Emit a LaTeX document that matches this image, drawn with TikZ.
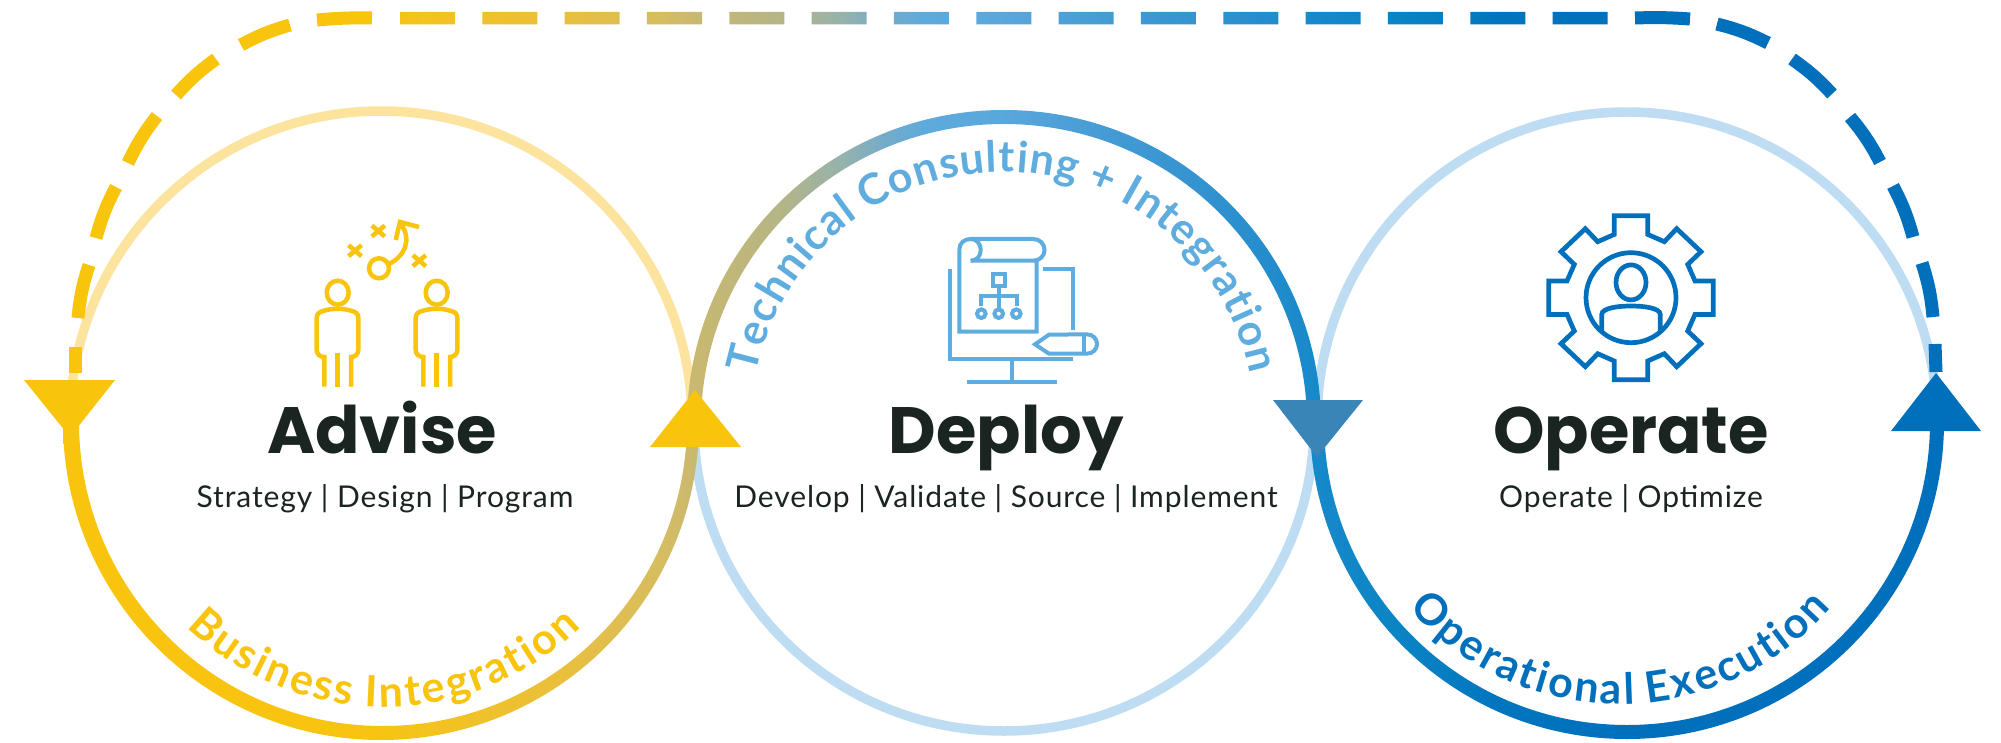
\documentclass[tikz,border=0pt]{standalone}
\usepackage{fontspec}
\setmainfont[LetterSpace=3]{Lato}
\newfontfamily\headfont{Poppins}
\newfontfamily\arcfont{Lato}
\usetikzlibrary{decorations.text}
\definecolor{cYel}{HTML}{F9C40C}
\definecolor{cYelL}{HTML}{FCE49E}
\definecolor{cBluL}{HTML}{BFDDF2}
\definecolor{cSky}{HTML}{5FACDE}
\definecolor{cBlu}{HTML}{0070BC}
\definecolor{cMid}{HTML}{3A85B8}
\definecolor{cInk}{HTML}{1A2421}
\definecolor{s1}{HTML}{F7C412}
\definecolor{s2}{HTML}{EABF3C}
\definecolor{s3}{HTML}{D6BD62}
\definecolor{s4}{HTML}{C9B870}
\definecolor{s5}{HTML}{B5B585}
\definecolor{s6}{HTML}{95B2AD}
\definecolor{s7}{HTML}{74ACC9}
\definecolor{s8}{HTML}{5EAADC}
\definecolor{s9}{HTML}{5AA7DC}
\definecolor{s10}{HTML}{4099D3}
\definecolor{s11}{HTML}{2E90CE}
\definecolor{s12}{HTML}{1789CA}
\definecolor{s13}{HTML}{0A84C4}
\definecolor{s14}{HTML}{0075BE}
\pgfdeclarehorizontalshading{flow}{100bp}{color(0bp)=(cYel); color(25bp)=(cYel); color(34.45bp)=(s1); color(38.99bp)=(s2); color(41.59bp)=(s3); color(42.34bp)=(s4); color(44.49bp)=(s5); color(46.06bp)=(s6); color(47.09bp)=(s7); color(48.11bp)=(s8); color(49.99bp)=(s9); color(53.24bp)=(s10); color(55.73bp)=(s11); color(57.83bp)=(s12); color(59.98bp)=(s13); color(62.48bp)=(s14); color(65.73bp)=(cBlu); color(100bp)=(cBlu)}
\newcommand{\ka}{\kern2.6pt}
\newcommand{\kb}{\kern1.2pt}
\tikzset{
  lightarc/.style={line width=9.5pt},
  corner/.style={line width=13pt},
  headtext/.style={font=\headfont\bfseries\fontsize{65.5}{66}\selectfont, text=cInk, anchor=base, inner sep=0pt},
  subtext/.style={font=\fontsize{30}{30}\selectfont, text=cInk, anchor=base, inner sep=0pt},
  iconY/.style={draw=cYel, line width=4.5pt, line join=miter},
  iconS/.style={draw=cSky, line width=4pt, line join=miter},
  iconB/.style={draw=cBlu, line width=4.7pt, line join=miter},
  flowfill/.style={shading=flow}
}
\begin{document}
\begin{tikzpicture}[x=1pt,y=-1pt]
\useasboundingbox (0,0) rectangle (2001,743);
\fill[white] (0,0) rectangle (2001,743);
% light half circles
\draw[lightarc,cYelL] (70,422) arc[start angle=180,end angle=360,radius=311];
\draw[lightarc,cBluL] (694,424) arc[start angle=180,end angle=0,x radius=310,y radius=307];
\draw[lightarc,cBluL] (1317,422) arc[start angle=180,end angle=360,radius=310];
% bold gradient half circles
\begin{scope}
\clip (63,422) arc[start angle=180,end angle=0,radius=318] -- (687,422) arc[start angle=0,end angle=180,radius=304] -- cycle;
\shade[flowfill] (0,0) rectangle (2001,743);
\end{scope}
\begin{scope}
\clip (687,424) arc[start angle=180,end angle=360,x radius=317,y radius=314] -- (1307,424) arc[start angle=360,end angle=180,x radius=303,y radius=300] -- cycle;
\shade[flowfill] (0,0) rectangle (2001,743);
\end{scope}
\begin{scope}
\clip (1310,422) arc[start angle=180,end angle=0,radius=317] -- (1930,422) arc[start angle=0,end angle=180,radius=303] -- cycle;
\shade[flowfill] (0,0) rectangle (2001,743);
\end{scope}
% dashed return path
\draw[corner,cYel] (75,373) -- (75,347);
\draw[corner,cYel] (78,318) to[bend left=6] (89,265);
\draw[corner,cYel] (96,238) to[bend left=6] (116,187);
\draw[corner,cYel] (128,163) to[bend left=6] (157,116);
\draw[corner,cYel] (176,95) to[bend left=6] (216,59);
\draw[corner,cYel] (241,45) to[bend left=6] (290,25);
\draw[corner,cYel] (317,20) to[bend left=3] (372,18);
\begin{scope}
\clip \foreach \k in {0,...,14}{ ({400+82.33*\k},12) rectangle ({455+82.33*\k},24.5) };
\shade[flowfill] (0,0) rectangle (2001,743);
\end{scope}
\draw[corner,cBlu] (1635,18) to[bend left=3] (1690,19);
\draw[corner,cBlu] (1717,24) to[bend left=6] (1768,43);
\draw[corner,cBlu] (1792,59) to[bend left=6] (1832,94);
\draw[corner,cBlu] (1850,117) to[bend left=6] (1880,162);
\draw[corner,cBlu] (1893,186) to[bend left=6] (1913,237);
\draw[corner,cBlu] (1922,263) to[bend left=6] (1933,317);
\draw[corner,cBlu] (1935,344) -- (1936,372);
% arrow triangles
\fill[cYel] (24,380) -- (115,380) -- (70,437) -- cycle;
\fill[cYel] (650,447) -- (741,447) -- (695,390) -- cycle;
\fill[cMid] (1273,400) -- (1363,400) -- (1317,457) -- cycle;
\fill[cBlu] (1891,431) -- (1981,431) -- (1936,373) -- cycle;
% titles
\node[headtext] (advise) at (382,453) {Advise};
\node[headtext] (deploy) at (1006,453) {Deploy};
\node[headtext] (operate) at (1631,453) {Operate};
\node[subtext] (advisesub) at (385,507) {Strategy | Design | Program};
\node[subtext] (deploysub) at (1006,507) {Develop | Validate | Source | Implement};
\node[subtext] (operatesub) at (1631,507) {Operate | Optimize};
% arc labels
\path[decorate,decoration={text along path,text align=center,text={|\arcfont\bfseries\fontsize{43}{43}\selectfont\color{cYel}|{B\ka}{u\ka}{s\ka}{i\ka}{n\ka}{e\ka}{s\ka}{s\ka} {I\ka}{n\ka}{t\ka}{e\ka}{g\ka}{r\ka}{a\ka}{t\ka}{i\ka}{o\ka}{n}}}]
  ({384+283*cos(150)},{424+283*sin(150)}) arc[start angle=150,end angle=30,radius=283];
\path[decorate,decoration={text along path,text align=center,text={|\arcfont\bfseries\fontsize{43}{43}\selectfont\color{cSky}|{T\kb}{e\kb}{c\kb}{h\kb}{n\kb}{i\kb}{c\kb}{a\kb}{l\kb} {C\kb}{o\kb}{n\kb}{s\kb}{u\kb}{l\kb}{t\kb}{i\kb}{n\kb}{g\kb} {+\kb} {I\kb}{n\kb}{t\kb}{e\kb}{g\kb}{r\kb}{a\kb}{t\kb}{i\kb}{o\kb}{n}}}]
  ({1003+252*cos(175)},{424+252*sin(175)}) arc[start angle=175,end angle=365,radius=252];
\path[decorate,decoration={text along path,text align=center,text={|\arcfont\bfseries\fontsize{43}{43}\selectfont\color{cBlu}|{O\ka}{p\ka}{e\ka}{r\ka}{a\ka}{t\ka}{i\ka}{o\ka}{n\ka}{a\ka}{l\ka} {E\ka}{x\ka}{e\ka}{c\ka}{u\ka}{t\ka}{i\ka}{o\ka}{n}}}]
  ({1620+280*cos(150)},{424+280*sin(150)}) arc[start angle=150,end angle=30,radius=280];
% Advise icon
\foreach \dx in {0,99}{
\begin{scope}[xshift=\dx pt]
\draw[iconY] (337.7,292.7) ellipse[x radius=11,y radius=12];
\draw[iconY] (324.3,386.7) -- (324.3,357) .. controls (320,357) and (316.7,354) .. (316.7,350) -- (316.7,318) .. controls (316.7,314) and (319,312) .. (323,311) .. controls (332,308) and (343,308) .. (352,311) .. controls (356,312) and (358.3,314) .. (358.3,318) -- (358.3,350) .. controls (358.3,354) and (355,357) .. (351,357) -- (351,386.7);
\draw[iconY] (337.7,353.3) -- (337.7,386.7);
\end{scope}}
\foreach \cx/\cy in {355/250.7,378.3/231,419.3/260.7}{
\draw[iconY] ({\cx-6.5},{\cy-5.5}) -- ({\cx+6.5},{\cy+5.5});
\draw[iconY] ({\cx-6.5},{\cy+5.5}) -- ({\cx+6.5},{\cy-5.5});
}
\draw[iconY] (379,268.3) circle[radius=10];
\draw[iconY] (389,264) .. controls (405,256) and (412,240) .. (401,224);
\draw[iconY] (395.7,240) -- (400,222) -- (419,227);
% Deploy icon
\draw[iconS] (1036.7,260.7) -- (1036.7,331.7) -- (959.3,331.7) -- (959.3,250) .. controls (959.3,243) and (964,239) .. (970.7,239) -- (1033,239) .. controls (1040,239) and (1044.5,244) .. (1044.5,250) .. controls (1044.5,256) and (1040,260.7) .. (1033,260.7) -- (970.7,260.7);
\draw[iconS] (970.7,239) .. controls (977,239) and (980.7,244) .. (980.7,250) .. controls (980.7,256) and (977,260.7) .. (970.7,260.7);
\draw[iconS] (992.7,274) rectangle (1004.7,286);
\draw[iconS] (998.7,286) -- (998.7,308);
\draw[iconS] (980.7,306) -- (980.7,295.7) -- (1016.7,295.7) -- (1016.7,306);
\foreach \qx in {981.3,998.7,1016.3}{\draw[iconS] (\qx,313.7) circle[radius=4.3];}
\draw[iconS] (950,269) -- (950,359) -- (1073.3,359);
\draw[iconS] (1011.7,359) -- (1011.7,381.7);
\draw[iconS] (966.7,381.7) -- (1056.7,381.7);
\draw[iconS] (1043.3,269) -- (1073.3,269) -- (1073.3,330);
\draw[iconS] (1049,353.7) -- (1035,344.3) -- (1049,334.7) -- (1086.7,334.3) .. controls (1093,334.3) and (1097,339) .. (1097,344) .. controls (1097,349) and (1093,353.7) .. (1086.7,353.7) -- cycle;
\draw[iconS] (1084.3,334.5) -- (1084.3,353.7);
% Operate icon
\begin{scope}[shift={(1631,297.7)}]
\draw[iconB] (-16.7,-82) -- (16.7,-82) -- (16.7,-63.3) -- (33.3,-56) -- (45.7,-69) -- (70,-46) -- (56.7,-33.3) -- (64,-16.7) -- (82.3,-16.7) -- (82.3,16.7) -- (64,16.7) -- (56.7,33.3) -- (70,46) -- (45.7,69) -- (33.3,56) -- (16.7,63.3) -- (16.7,82) -- (-16.7,82) -- (-16.7,63.3) -- (-33.3,56) -- (-45.7,69) -- (-70,46) -- (-56.7,33.3) -- (-64,16.7) -- (-82.3,16.7) -- (-82.3,-16.7) -- (-64,-16.7) -- (-56.7,-33.3) -- (-70,-46) -- (-45.7,-69) -- (-33.3,-56) -- (-16.7,-63.3) -- cycle;
\draw[iconB] (0,0) circle[radius=45];
\draw[iconB] (0,-15.3) ellipse[x radius=15,y radius=17.5];
\draw[iconB] (-29.3,34) -- (-29.3,17) .. controls (-29.3,10) and (-12,8.3) .. (0,8.3) .. controls (12,8.3) and (29.3,10) .. (29.3,17) -- (29.3,34);
\end{scope}
\end{tikzpicture}
\end{document}
